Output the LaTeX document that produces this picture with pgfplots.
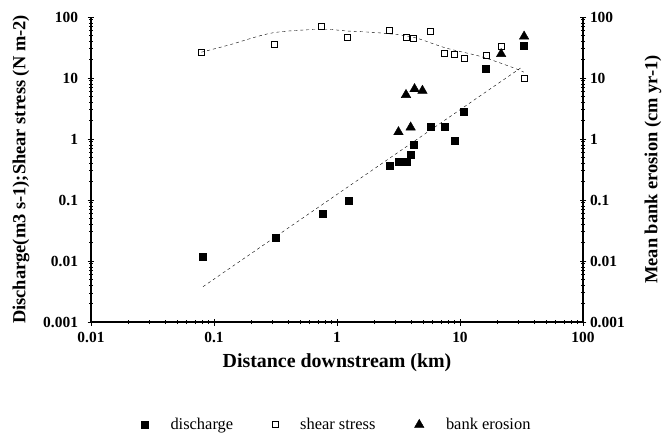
\documentclass[border=0pt]{standalone}
\usepackage{pgfplots}
\pgfplotsset{compat=1.18}
\usepackage{fontspec}
\setmainfont{Liberation Serif}

\begin{document}
\begin{tikzpicture}
\useasboundingbox (-91bp,-112bp) rectangle (578bp,322bp);

% left axis: discharge and shear stress
\begin{axis}[
    xmode=log, ymode=log,
    scale only axis,
    width=492bp, height=305bp,
    at={(0,0)}, anchor=south west,
    xmin=0.01, xmax=100,
    ymin=0.001, ymax=100,
    xtick={0.01,0.1,1,10,100},
    xticklabels={0.01,0.1,1,10,100},
    ytick={0.001,0.01,0.1,1,10,100},
    yticklabels={0.001,0.01,0.1,1,10,100},
    /pgf/number format/assume math mode=true,
    tick align=center,
    major tick length=7bp,
    minor tick length=4bp,
    tick style={black, line width=0.8pt},
    axis x line=bottom, axis y line=left,
    axis line style={-, line width=1.6pt},
    xticklabel style={font=\bfseries\fontsize{15.5}{16}\selectfont, yshift=-3bp},
    yticklabel style={font=\bfseries\fontsize{15.5}{16}\selectfont, xshift=-6bp},
    xlabel={Distance downstream (km)},
    ylabel={Discharge(m3 s-1);Shear stress (N m-2)},
    xlabel style={font=\bfseries\fontsize{20}{20}\selectfont,
      at={(axis description cs:0.5,0)}, anchor=base, yshift=-45bp},
    ylabel style={font=\bfseries\fontsize{18.5}{18.5}\selectfont,
      at={(axis description cs:-0.142,0.5)}, anchor=center},
    legend columns=3,
    legend style={draw=none, fill=none, at={(0.5,-0.337)}, anchor=center,
      font=\fontsize{16.5}{17}\selectfont,
      /tikz/every odd column/.append style={column sep=20bp},
      /tikz/every even column/.append style={column sep=37bp}},
    legend cell align=left,
]
% discharge
\addplot[only marks, mark=square*, mark size=3.5bp, black] coordinates {
  (0.081,0.0116) (0.317,0.0238) (0.762,0.059) (1.24,0.096)
  (2.67,0.36) (3.16,0.42) (3.72,0.43) (3.97,0.55) (4.18,0.80)
  (5.74,1.57) (7.45,1.57) (8.98,0.95) (10.8,2.77) (16.3,14.0) (33.2,33.5)
};
\addlegendentry{discharge}
% shear stress
\addplot[only marks, mark=square, mark size=3bp, black, mark options={line width=0.8pt}] coordinates {
  (0.079,26.7) (0.31,36) (0.748,71) (1.21,47) (2.67,61) (3.64,47)
  (4.18,45) (5.74,57) (7.45,25.7) (8.98,24.8) (10.8,21.3) (16.3,23.8)
  (21.6,33.5) (33.6,10)
};
\addlegendentry{shear stress}
\addlegendimage{only marks, mark=triangle*, mark size=5.5bp, black}
\addlegendentry{bank erosion}
% trend lines
\addplot[black, dashed, thin, forget plot] coordinates {(0.0815,0.0038) (32.2,15.3)};
\addplot[black, dashed, thin, smooth, forget plot] coordinates {
  (0.079,26.5) (0.134,35) (0.3,55) (0.75,63) (1.2,59) (2.2,55)
  (4.1,47) (7.7,31) (14.9,22.4) (26.5,15) (33,12.5)
};
\end{axis}

% right axis: bank erosion
\begin{axis}[
    xmode=log, ymode=log,
    scale only axis,
    width=492bp, height=305bp,
    at={(0,0)}, anchor=south west,
    xmin=0.01, xmax=100,
    ymin=0.001, ymax=100,
    ytick={0.001,0.01,0.1,1,10,100},
    yticklabels={0.001,0.01,0.1,1,10,100},
    /pgf/number format/assume math mode=true,
    tick align=center,
    major tick length=7bp,
    minor tick length=4bp,
    tick style={black, line width=0.8pt},
    axis x line=none, axis y line=right,
    axis line style={-, line width=1.6pt},
    yticklabel style={font=\bfseries\fontsize{15.5}{16}\selectfont},
    ylabel={Mean bank erosion (cm yr-1)},
    ylabel style={font=\bfseries\fontsize{18.5}{18.5}\selectfont,
      at={(axis description cs:1.142,0.5)}, anchor=center},
]
\addplot[only marks, mark=triangle*, mark size=5.5bp, black] coordinates {
  (3.16,1.3) (3.97,1.55) (3.64,5.3) (4.27,6.6) (4.95,6.2)
  (21.6,24.8) (33.2,48)
};
\end{axis}
\end{tikzpicture}
\end{document}
